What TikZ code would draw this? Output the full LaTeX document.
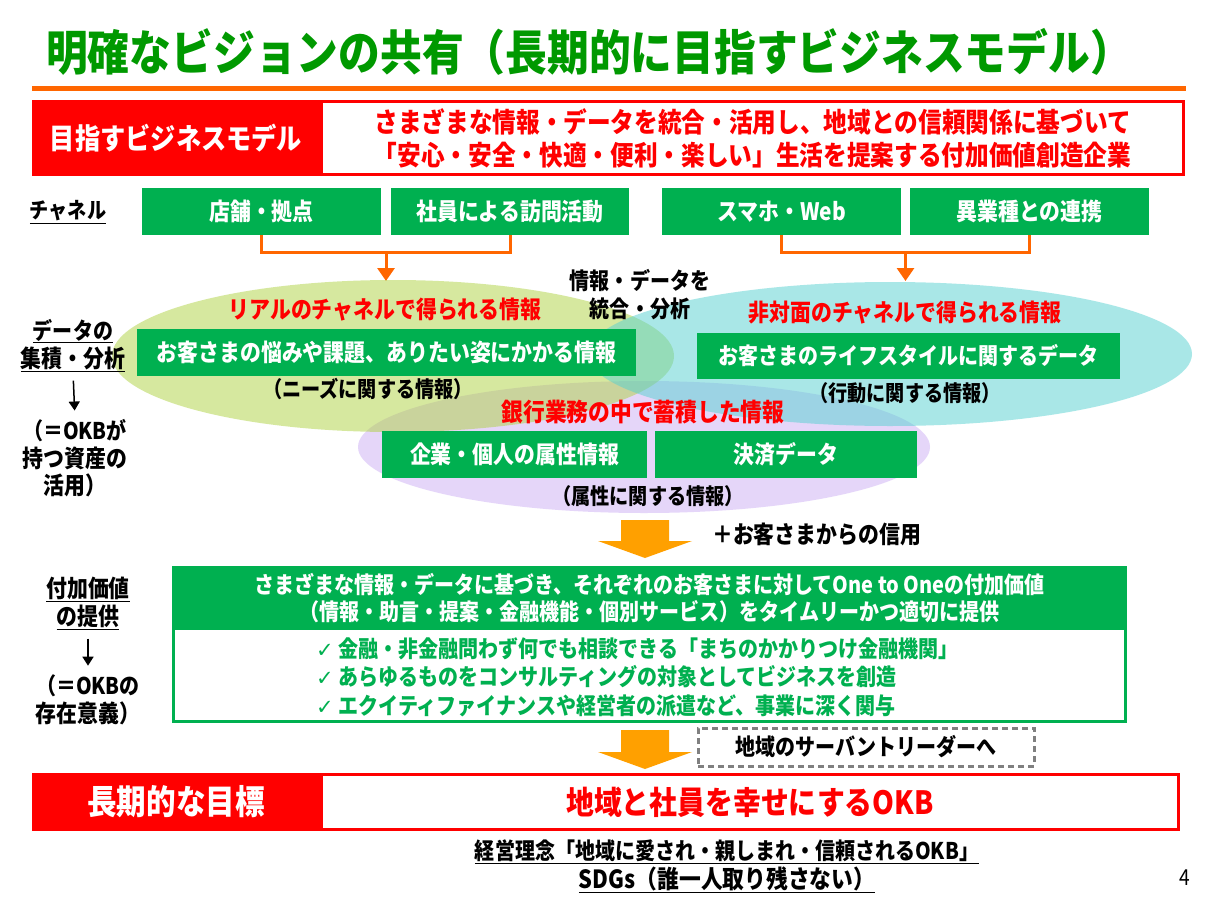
\documentclass[tikz,border=0pt]{standalone}
\usepackage{fontspec}
\setmainfont{Noto Sans CJK JP}[FakeStretch=0.87]
\newfontfamily\dejavu{DejaVu Sans}
\usetikzlibrary{arrows.meta}
\definecolor{ttlgreen}{RGB}{0,153,0}
\definecolor{boxgreen}{RGB}{0,176,80}
\definecolor{rulorange}{RGB}{255,102,0}
\definecolor{blkorange}{RGB}{255,160,0}
\definecolor{ellY}{RGB}{175,210,65}
\definecolor{ellC}{RGB}{85,209,209}
\definecolor{ellP}{RGB}{205,175,245}
\definecolor{dashgray}{RGB}{128,128,128}
\newcommand\fsz[1]{\fontsize{#1}{#1}\selectfont}
\tikzset{
  gbox/.style={fill=boxgreen, text=white, font=\bfseries\fsz{24}, inner sep=0pt, align=center},
  redlbl/.style={fill=red, text=white, font=\bfseries\fsz{29}, inner sep=0pt},
  redframe/.style={draw=red, line width=3pt, fill=white, text=red, font=\bfseries\fontsize{27.2}{33}\selectfont, align=center, inner sep=0pt},
  redtxt/.style={text=red, font=\bfseries\fsz{24}, inner sep=0pt},
  blk/.style={text=black, font=\bfseries\fsz{23}, inner sep=0pt, align=center},
  conn/.style={draw=rulorange, line width=3pt},
  larrow/.style={line width=1.5pt, -{Triangle[length=9pt,width=11pt]}},
  blockarrow/.style={fill=blkorange}
}
\newcommand\chkmark{{\dejavu\mdseries\fsz{21}✓}}
\begin{document}
\begin{tikzpicture}[x=1pt,y=-1pt]
\useasboundingbox (0,0) rectangle (1210,907);
\fill[white] (0,0) rectangle (1210,907);
% title
\node[anchor=west, text=ttlgreen, font=\bfseries\fsz{48}, inner sep=0pt] (title) at (46,52) {明確なビジョンの共有（長期的に目指すビジネスモデル）};
\node[fill=rulorange, minimum width=1154pt, minimum height=5pt, inner sep=0pt] (rule) at (609,88) {};
% business model
\node[redframe, minimum width=862pt, minimum height=73pt] (mtxt) at (752.5,138) {さまざまな情報・データを統合・活用し、地域との信頼関係に基づいて\\「安心・安全・快適・便利・楽しい」生活を提案する付加価値創造企業};
\node[redlbl, minimum width=288pt, minimum height=76pt] (mlab) at (176,138) {目指すビジネスモデル};
% channels
\node[blk, font=\bfseries\fsz{22}] (chlab) at (68,212) {\underline{チャネル}};
\node[gbox, minimum width=239pt, minimum height=47pt] (b1) at (261.5,211.5) {店舗・拠点};
\node[gbox, minimum width=238pt, minimum height=47pt] (b2) at (510,211.5) {社員による訪問活動};
\node[gbox, minimum width=239pt, minimum height=47pt] (b3) at (781.5,211.5) {スマホ・Web};
\node[gbox, minimum width=239pt, minimum height=47pt] (b4) at (1029.5,211.5) {異業種との連携};
% connectors
\coordinate (j1) at (386,252);
\coordinate (a1) at (386,281);
\coordinate (j2) at (905.5,252);
\coordinate (a2) at (905.5,281);
\draw[conn] (b1.south) |- (j1) -| (b2.south);
\draw[conn, -{Triangle[width=17pt,length=13pt]}] (j1) -- (a1);
\draw[conn] (b3.south) |- (j2) -| (b4.south);
\draw[conn, -{Triangle[width=17pt,length=13pt]}] (j2) -- (a2);
% ellipses
\fill[ellP, fill opacity=0.5] (644,447) ellipse [x radius=286, y radius=66];
\fill[ellY, fill opacity=0.5] (393,356) ellipse [x radius=281, y radius=76];
\fill[ellC, fill opacity=0.5] (890,354) ellipse [x radius=302, y radius=72];
% real channel info
\node[redtxt] (treal) at (385,310) {リアルのチャネルで得られる情報};
\node[gbox, minimum width=499pt, minimum height=47pt] (gneeds) at (386.5,352.5) {お客さまの悩みや課題、ありたい姿にかかる情報};
\node[blk, font=\bfseries\fsz{22}] (nneeds) at (368,389) {（ニーズに関する情報）};
\node[blk, font=\bfseries\fontsize{23}{28}\selectfont] (integ) at (640,295) {情報・データを\\統合・分析};
% non-face-to-face
\node[redtxt] (tnon) at (905,313) {非対面のチャネルで得られる情報};
\node[gbox, font=\bfseries\fsz{23}, minimum width=423pt, minimum height=46pt] (glife) at (908.5,356) {お客さまのライフスタイルに関するデータ};
\node[blk, font=\bfseries\fsz{22}] (nlife) at (905,393) {（行動に関する情報）};
% bank
\node[redtxt, font=\bfseries\fsz{25}] (tbank) at (643,412) {銀行業務の中で蓄積した情報};
\node[gbox, minimum width=265pt, minimum height=47pt] (gattr) at (514.5,454.5) {企業・個人の属性情報};
\node[gbox, minimum width=262pt, minimum height=47pt] (gpay) at (786,454.5) {決済データ};
\node[blk, font=\bfseries\fsz{22}] (nattr) at (648,496) {（属性に関する情報）};
% left labels 1
\node[blk] (l1) at (73,331) {\underline{データの}};
\node[blk, font=\bfseries\fsz{24}] (l2) at (73,359) {\underline{集積・分析}};
\node[blk] (l3) at (75,431) {（＝OKBが};
\node[blk, font=\bfseries\fsz{24}] (l4) at (75,458) {持つ資産の};
\node[blk, font=\bfseries\fsz{24}] (l5) at (75,485) {活用）};
\draw[larrow, shorten <=9pt, shorten >=9pt] (l2.south) -- (l3.north);
% arrow 1
\fill[blockarrow] (621,520) -- (669,520) -- (669,541) -- (692,541) -- (645,558) -- (598,541) -- (621,541) -- cycle;
\node[blk, font=\bfseries\fsz{24}, anchor=west] (credit) at (712,534) {＋お客さまからの信用};
% value box
\node[draw=boxgreen, line width=3pt, fill=white, minimum width=952pt, minimum height=154pt, inner sep=0pt] (vbox) at (649.5,644.5) {};
\node[fill=boxgreen, minimum width=955pt, minimum height=64pt, inner sep=0pt, text=white, font=\bfseries\fontsize{23}{27}\selectfont, align=center] (vhead) at (649.5,598) {さまざまな情報・データに基づき、それぞれのお客さまに対してOne to Oneの付加価値\\（情報・助言・提案・金融機能・個別サービス）をタイムリーかつ適切に提供};
\node[text=boxgreen, font=\bfseries\fontsize{23}{28.5}\selectfont, align=left, anchor=west, inner sep=0pt] (vlist) at (316,677) {\chkmark{} 金融・非金融問わず何でも相談できる「まちのかかりつけ金融機関」\\\chkmark{} あらゆるものをコンサルティングの対象としてビジネスを創造\\\chkmark{} エクイティファイナンスや経営者の派遣など、事業に深く関与};
% left labels 2
\node[blk, font=\bfseries\fsz{24}] (m1) at (88,589) {\underline{付加価値}};
\node[blk, font=\bfseries\fsz{24}] (m2) at (88,617) {\underline{の提供}};
\node[blk] (m3) at (88,686) {（＝OKBの};
\node[blk, font=\bfseries\fsz{24}] (m4) at (88,713) {存在意義）};
\draw[larrow, shorten <=9pt, shorten >=9pt] (m2.south) -- (m3.north);
% arrow 2
\fill[blockarrow] (621,730) -- (669,730) -- (669,752) -- (692,752) -- (645,769) -- (598,752) -- (621,752) -- cycle;
\node[blk, draw=dashgray, line width=3pt, dash pattern=on 6pt off 4pt, minimum width=336pt, minimum height=38pt] (servant) at (866,747) {地域のサーバントリーダーへ};
% long-term goal
\node[redframe, font=\bfseries\fsz{32}, minimum width=857pt, minimum height=55pt] (goal) at (750,802) {地域と社員を幸せにするOKB};
\node[redlbl, font=\bfseries\fsz{34}, minimum width=288pt, minimum height=58pt] (glab) at (176,802) {長期的な目標};
% bottom
\node[blk] (phil) at (727,852) {\underline{経営理念「地域に愛され・親しまれ・信頼されるOKB」}};
\node[blk, font=\bfseries\fsz{25}] (sdgs) at (727,880) {\underline{SDGs（誰一人取り残さない）}};
\node[font=\fsz{22}, inner sep=0pt] (pnum) at (1185,878) {4};
\end{tikzpicture}
\end{document}
